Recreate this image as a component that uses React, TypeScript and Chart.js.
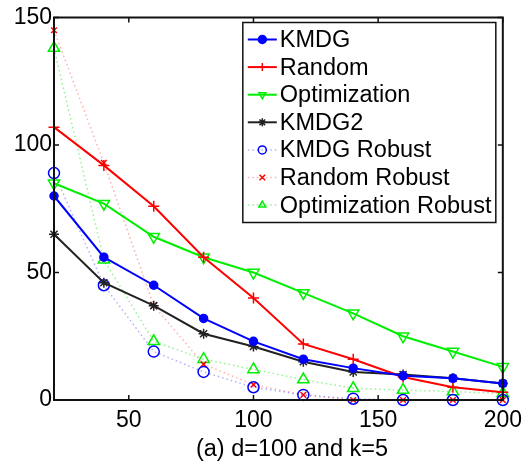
import React, { useEffect, useRef } from "react";
import { Chart, registerables } from "chart.js";
import { drawPoint } from "chart.js/helpers";

Chart.register(...registerables);

const FONT = "'Liberation Sans', Arial, Helvetica, sans-serif";
const FONT_SIZE = 23;
const LEGEND_FONT_SIZE = 23.5;

// Sample sizes along the x axis
const budgets = [20, 40, 60, 80, 100, 120, 140, 160, 180, 200];

// Error of each method
const kmdg = [80, 56, 45, 32, 23, 16, 12.5, 9.5, 8.5, 6.5];
const random = [107, 92, 76, 56, 40, 22, 16, 9, 5, 3];
const optimization = [85, 77, 64, 56, 50, 42, 34, 25, 19, 13];
const kmdg2 = [65, 46, 37, 26, 21, 15, 11, 10, 8.5, 6.5];
const kmdgRobust = [89, 45, 19, 11, 5, 2, 0.5, 0, 0, 0];
const randomRobust = [145, 93, 37, 14, 6, 2, 0, 0, 0, 0];
const optimizationRobust = [138, 55, 23, 16, 12, 8, 4.6, 3.9, 3.3, 2.6];

const seriesNames = [
  "KMDG",
  "Random",
  "Optimization",
  "KMDG2",
  "KMDG Robust",
  "Random Robust",
  "Optimization Robust",
];

const xTickValues = [50, 100, 150, 200];
const yTickValues = [0, 50, 100, 150];
const caption = "(a) d=100 and k=5";

const toPoints = (vals: number[]) => budgets.map((x, i) => ({ x, y: vals[i] }));

export default function App() {
  const canvasRef = useRef<HTMLCanvasElement>(null);

  useEffect(() => {
    document.body.style.margin = "0";
    const canvas = canvasRef.current;
    if (!canvas) return;

    const solid = (
      label: string,
      vals: number[],
      color: string,
      pointStyle: string,
      radius: number,
      filled: boolean,
      rotation = 0
    ) => ({
      label,
      data: toPoints(vals),
      borderColor: color,
      borderWidth: 2,
      pointStyle,
      pointRadius: radius,
      pointRotation: rotation,
      pointBorderColor: color,
      pointBorderWidth: 1.5,
      pointBackgroundColor: filled ? color : "rgba(0,0,0,0)",
      clip: false as const,
      tension: 0,
    });

    const dotted = (
      label: string,
      vals: number[],
      lineColor: string,
      color: string,
      pointStyle: string,
      radius: number
    ) => ({
      label,
      data: toPoints(vals),
      borderColor: lineColor,
      borderWidth: 1.5,
      borderDash: [1.5, 3],
      pointStyle,
      pointRadius: radius,
      pointRotation: 0,
      pointBorderColor: color,
      pointBorderWidth: 1.5,
      pointBackgroundColor: "rgba(0,0,0,0)",
      clip: false as const,
      tension: 0,
    });

    const datasets = [
      solid(seriesNames[0], kmdg, "#0000ff", "circle", 4, true),
      solid(seriesNames[1], random, "#ff0000", "cross", 5.5, false),
      solid(seriesNames[2], optimization, "#00ee00", "triangle", 6.5, false, 180),
      solid(seriesNames[3], kmdg2, "#222222", "star", 5, false),
      dotted(seriesNames[4], kmdgRobust, "rgba(100,100,255,0.5)", "#0000ff", "circle", 5.5),
      dotted(seriesNames[5], randomRobust, "rgba(255,100,100,0.5)", "#ff0000", "crossRot", 4),
      dotted(seriesNames[6], optimizationRobust, "rgba(60,230,60,0.55)", "#00ee00", "triangle", 6.5),
    ];

    // Box around the plot with inward ticks, legend box and caption
    const decorations = {
      id: "decorations",
      afterDraw(chart: any) {
        const { ctx, chartArea } = chart;
        const { left, right, top, bottom } = chartArea;
        const xs = chart.scales.x;
        const ys = chart.scales.y;
        ctx.save();
        ctx.strokeStyle = "#111";
        ctx.lineWidth = 2;
        ctx.setLineDash([]);
        ctx.strokeRect(left, top, right - left, bottom - top);
        const tl = 5;
        ctx.lineWidth = 1.5;
        ctx.beginPath();
        xTickValues.forEach((v) => {
          const px = xs.getPixelForValue(v);
          ctx.moveTo(px, bottom);
          ctx.lineTo(px, bottom - tl);
          ctx.moveTo(px, top);
          ctx.lineTo(px, top + tl);
        });
        yTickValues.forEach((v) => {
          const py = ys.getPixelForValue(v);
          ctx.moveTo(left, py);
          ctx.lineTo(left + tl, py);
          ctx.moveTo(right, py);
          ctx.lineTo(right - tl, py);
        });
        ctx.stroke();

        // legend
        const bx = right - 260;
        const by = top + 5;
        const bw = 253;
        const bh = 200;
        ctx.fillStyle = "#fff";
        ctx.fillRect(bx, by, bw, bh);
        ctx.strokeStyle = "#111";
        ctx.lineWidth = 1.5;
        ctx.strokeRect(bx, by, bw, bh);
        chart.data.datasets.forEach((ds: any, i: number) => {
          const cy = by + 17 + i * 27.6;
          const x0 = bx + 5;
          const x1 = bx + 34;
          const cx = (x0 + x1) / 2;
          ctx.save();
          ctx.strokeStyle = ds.borderColor;
          ctx.lineWidth = ds.borderWidth;
          ctx.setLineDash(ds.borderDash || []);
          ctx.beginPath();
          ctx.moveTo(x0, cy);
          ctx.lineTo(x1, cy);
          ctx.stroke();
          ctx.setLineDash([]);
          ctx.strokeStyle = ds.pointBorderColor;
          ctx.fillStyle = ds.pointBackgroundColor;
          ctx.lineWidth = ds.pointBorderWidth;
          drawPoint(
            ctx,
            {
              pointStyle: ds.pointStyle,
              radius: Math.min(ds.pointRadius, 4),
              rotation: ds.pointRotation || 0,
              borderWidth: ds.pointBorderWidth,
            } as any,
            cx,
            cy
          );
          ctx.restore();
          ctx.fillStyle = "#000";
          ctx.font = `${LEGEND_FONT_SIZE}px ${FONT}`;
          ctx.textAlign = "left";
          ctx.textBaseline = "middle";
          ctx.fillText(ds.label, bx + 37, cy + 1);
        });

        // caption under the x axis
        ctx.fillStyle = "#000";
        ctx.font = `${LEGEND_FONT_SIZE}px ${FONT}`;
        ctx.textAlign = "center";
        ctx.textBaseline = "middle";
        ctx.fillText(caption, 292, 450);
        ctx.restore();
      },
    };

    const chart = new Chart(canvas, {
      type: "line",
      data: { datasets: datasets as any },
      options: {
        responsive: false,
        animation: false,
        devicePixelRatio: 1,
        layout: { padding: { top: 17.5, right: 22, left: 0, bottom: 0 } },
        plugins: {
          legend: { display: false },
          tooltip: { enabled: false },
        },
        scales: {
          x: {
            type: "linear",
            min: 20,
            max: 200,
            grid: { display: false, drawTicks: false },
            border: { display: false },
            ticks: {
              color: "#000",
              font: { family: FONT, size: FONT_SIZE },
              padding: 7,
              maxRotation: 0,
            },
            afterBuildTicks: (scale: any) => {
              scale.ticks = xTickValues.map((v) => ({ value: v }));
            },
            afterFit: (scale: any) => {
              scale.height = 63;
            },
          },
          y: {
            type: "linear",
            min: 0,
            max: 150,
            grid: { display: false, drawTicks: false },
            border: { display: false },
            ticks: {
              color: "#000",
              font: { family: FONT, size: FONT_SIZE },
              padding: 2,
            },
            afterBuildTicks: (scale: any) => {
              scale.ticks = yTickValues.map((v) => ({ value: v }));
            },
            afterFit: (scale: any) => {
              scale.width = 54;
            },
          },
        },
      },
      plugins: [decorations],
    });

    return () => chart.destroy();
  }, []);

  return (
    <div style={{ width: 529, height: 463, background: "#fff" }}>
      <canvas ref={canvasRef} width={529} height={463} style={{ display: "block" }} />
    </div>
  );
}
